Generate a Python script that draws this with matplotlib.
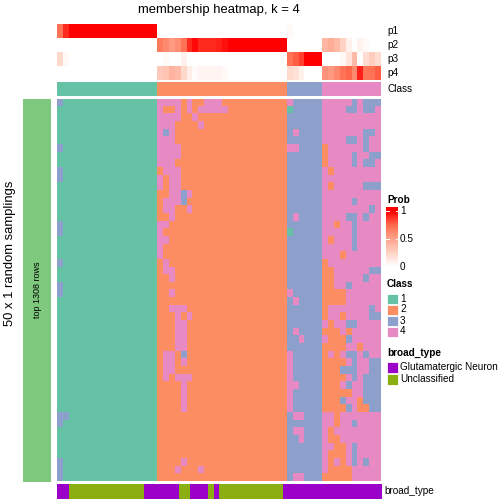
import matplotlib
matplotlib.use("Agg")
import matplotlib.pyplot as plt
import numpy as np
from matplotlib.colors import ListedColormap, LinearSegmentedColormap
from matplotlib.patches import Rectangle

plt.rcParams["font.family"] = ["Liberation Sans", "DejaVu Sans"]

# ---- data -------------------------------------------------------------
# class calls per sampling (rows) and sample (columns); groups split by spaces
class_rows = [
    "31111111111111111 4444242244422222222222 433333 4444434333",
    "11111111111111111 4224242444442222222222 133333 4444334334",
    "11111111111111111 4444224222222222222222 333333 4444444444",
    "11111111111111111 4442222422222222222222 333333 4444444444",
    "11111111111111111 4342222222222222222222 343333 4444444334",
    "11111111111111111 4442222222222222222222 333333 4444334344",
    "31111111111111111 4444222222222222222222 443333 2444444344",
    "11111111111111111 4444222222222222222222 333333 2444434433",
    "11111111111111111 4442222222222222222222 333333 2444434334",
    "31111111111111111 2444222222222222222222 333333 4244444444",
    "31111111111111111 4244222222222222222222 333333 4444444444",
    "11111111111111111 4244222222222222222222 333333 4244444333",
    "11111111111111111 2244342222222222222222 333333 4444444444",
    "11111111111111111 2444322222222222222222 333333 4444434444",
    "11111111111111111 2442242222222222222222 333333 4444444434",
    "11111111111111111 2242222222222222222222 343333 4444334344",
    "31111111111111111 4422222222222222222222 333333 4424434444",
    "31111111111111111 4222222222222222222222 133333 4444434444",
    "11111111111111111 4422222222222222222222 333333 4244434444",
    "11111111111111111 4222222222222222222222 333333 4444434444",
    "11111111111111111 4222222222222222222222 333333 4442444444",
    "31111111111111111 2422222222222222222222 333333 2444444444",
    "11111111111111111 2442222222222222222222 333333 2244444433",
    "11111111111111111 2242222222222222222222 333333 2244444344",
    "31111111111111111 2222222222222222222222 333333 2244344444",
    "31111111111111111 2242222222222222222222 433333 2222444444",
    "11111111111111111 2222222222222222222222 343333 2222444444",
    "11111111111111111 2244422222222222222222 333333 2444444434",
    "11111111111111111 2224242222222222222222 333333 2442444433",
    "11111111111111111 2224422222222222222222 333333 4244334444",
    "11111111111111111 2224422222222222222222 343333 2224244444",
    "11111111111111111 2224422222222222222222 334333 4222344444",
    "11111111111111111 2224422222222222222222 333333 2222442444",
    "11111111111111111 2442322222222222222222 433333 2424334344",
    "11111111111111111 2442422222222222222222 433333 2222434433",
    "11111111111111111 2442222222222222222222 433333 2223334433",
    "11111111111111111 2424442222222222222222 433333 2222434333",
    "11111111111111111 2222422222222222222222 443333 2224344333",
    "11111111111111111 2222422222222222222222 433333 2222244333",
    "11111111111111111 2222422222222222222222 433333 2223442333",
    "11111111111111111 2222422222222222222222 433333 2222342233",
    "33111111111111111 2222222222222222222222 344333 4424444444",
    "31111111111111111 2222222222222222222222 333333 4424434444",
    "11111111111111111 2222222222222222222222 344333 4244444444",
    "11111111111111111 2222222222222222222222 334333 4224444444",
    "11111111111111111 2222222222222222222222 333333 4422434444",
    "11111111111111111 2222222222222222222222 333333 4222434444",
    "31111111111111111 2222422222222222222222 333333 4242434344",
    "31111111111111111 2224222422222222222222 333333 4222244444",
    "31111111111111111 2222222222222222222222 344333 2222244444",
]

p1 = [0.72, 0.9, 1, 1, 1, 1, 1, 1, 1, 1, 1, 1, 1, 1, 1, 1, 1,
      0, 0, 0, 0, 0, 0, 0, 0, 0, 0, 0, 0, 0, 0, 0, 0, 0, 0, 0, 0, 0, 0,
      0.03, 0, 0, 0, 0, 0,
      0, 0, 0, 0, 0, 0, 0, 0, 0, 0]
p2 = [0, 0, 0, 0, 0, 0, 0, 0, 0, 0, 0, 0, 0, 0, 0, 0, 0,
      0.68, 0.62, 0.55, 0.6, 0.72, 0.9, 0.98, 0.9, 0.9, 0.9, 0.92, 0.96,
      1, 1, 1, 1, 1, 1, 1, 1, 1, 1,
      0, 0, 0, 0, 0, 0,
      0.4, 0.45, 0.38, 0.25, 0.08, 0, 0.07, 0.03, 0, 0]
p3 = [0.22, 0.04, 0, 0, 0, 0, 0, 0, 0, 0, 0, 0, 0, 0, 0, 0, 0,
      0, 0.03, 0, 0, 0.08, 0, 0, 0, 0, 0, 0, 0, 0, 0, 0, 0, 0, 0, 0, 0, 0, 0,
      0.72, 0.78, 0.85, 1, 1, 1,
      0, 0, 0, 0.04, 0.15, 0.38, 0, 0.2, 0.28, 0.2]
p4 = [0, 0, 0, 0, 0, 0, 0, 0, 0, 0, 0, 0, 0, 0, 0, 0, 0,
      0.3, 0.33, 0.42, 0.38, 0.22, 0.1, 0.02, 0.06, 0.06, 0.06, 0.06, 0.03,
      0, 0, 0, 0, 0, 0, 0, 0, 0, 0,
      0.2, 0.17, 0.08, 0, 0, 0,
      0.58, 0.55, 0.62, 0.72, 0.76, 0.62, 0.92, 0.7, 0.72, 0.78]

column_class = [1] * 17 + [2] * 22 + [3] * 6 + [4] * 10
# 1 = Glutamatergic Neuron, 2 = Unclassified
broad_type = [1, 1, 2, 2, 2, 2, 2, 2, 2, 2, 2, 2, 2, 2, 2,
              1, 1, 1, 1, 1, 1, 2, 2, 1, 1, 1, 2, 1,
              2, 2, 2, 2, 2, 2, 2, 2, 2, 2, 2,
              1, 1, 1, 1, 1, 1, 1, 1, 1, 1, 1, 1, 1, 1, 1, 1, 1]
broad_labels = ["Glutamatergic Neuron", "Unclassified"]
class_labels = ["1", "2", "3", "4"]

# ---- styles -------------------------------------------------------------
CLASS_COLORS = ["#66C2A5", "#FC8D62", "#8DA0CB", "#E78AC3"]
BROAD_COLORS = ["#9A00C8", "#8BAE12"]
class_cmap = ListedColormap(CLASS_COLORS)
broad_cmap = ListedColormap(BROAD_COLORS)
prob_cmap = LinearSegmentedColormap.from_list(
    "prob", [(0, "#FFFFFF"), (0.25, "#FFD3C5"), (0.5, "#FFA48C"),
             (0.75, "#FF6C4E"), (1, "#FF0000")])

W = H = 504


def px_axes(fig, x0, y0, x1, y1):
    ax = fig.add_axes([x0 / W, 1 - y1 / H, (x1 - x0) / W, (y1 - y0) / H])
    ax.set_axis_off()
    return ax


fig = plt.figure(figsize=(7, 7), dpi=72)

mat = np.array([[int(ch) for ch in r.replace(" ", "")] for r in class_rows])
probs = np.array([p1, p2, p3, p4])

# probability rows
ax_p = px_axes(fig, 57, 24, 381, 80)
ax_p.imshow(probs, cmap=prob_cmap, vmin=0, vmax=1, aspect="auto",
            interpolation="nearest")

# class annotation
ax_c = px_axes(fig, 57, 82, 381, 96)
ax_c.imshow(np.array([column_class]), cmap=class_cmap, vmin=0.5, vmax=4.5,
            aspect="auto", interpolation="nearest")

# main heatmap
ax_h = px_axes(fig, 57, 99, 381, 481.5)
ax_h.imshow(mat, cmap=class_cmap, vmin=0.5, vmax=4.5, aspect="auto",
            interpolation="nearest")

# broad_type annotation
ax_b = px_axes(fig, 57, 484, 381, 498.5)
ax_b.imshow(np.array([broad_type]), cmap=broad_cmap, vmin=0.5, vmax=2.5,
            aspect="auto", interpolation="nearest")

# overlay in pixel coordinates for text and legends
ov = fig.add_axes([0, 0, 1, 1])
ov.set_xlim(0, W)
ov.set_ylim(H, 0)
ov.set_axis_off()
ov.patch.set_alpha(0)

ov.text(219, 10, "membership heatmap, k = 4", ha="center", va="center", fontsize=13)
for i, name in enumerate(["p1", "p2", "p3", "p4"]):
    ov.text(387, 31 + 14 * i, name, ha="left", va="center", fontsize=10)
ov.text(387, 89, "Class", ha="left", va="center", fontsize=10)
ov.text(384, 491, "broad_type", ha="left", va="center", fontsize=10)

ov.add_patch(Rectangle((23, 99), 28, 382.5, color="#7FC97F", lw=0))
ov.text(37, 290, "top 1308 rows", rotation=90, ha="center", va="center", fontsize=9)
ov.text(10, 253, "50 x 1 random samplings", rotation=90, ha="center", va="center",
        fontsize=13)

# Prob legend
ov.text(387, 200, "Prob", ha="left", va="center", fontsize=10, fontweight="bold")
grad = np.linspace(1.07, 0, 100).reshape(-1, 1)
ov.imshow(np.clip(grad, 0, 1), cmap=prob_cmap, vmin=0, vmax=1, aspect="auto",
          extent=(386, 398, 267, 207), interpolation="bilinear")
for val, lab in [(1, "1"), (0.5, "0.5"), (0, "0")]:
    y = 267 - 56 * val
    ov.text(400, y, lab, ha="left", va="center", fontsize=10)
    if val > 0:
        ov.plot([386, 388.5], [y, y], color="white", lw=1)
        ov.plot([395.5, 398], [y, y], color="white", lw=1)

# Class legend
ov.text(387, 284, "Class", ha="left", va="center", fontsize=10, fontweight="bold")
for i, lab in enumerate(class_labels):
    yc = 298.5 + 11 * i
    ov.add_patch(Rectangle((386.5, yc - 5), 11, 10, facecolor=CLASS_COLORS[i],
                           edgecolor="white", lw=0.8))
    ov.text(400, yc, lab, ha="left", va="center", fontsize=10)

# broad_type legend
ov.text(387, 353, "broad_type", ha="left", va="center", fontsize=10, fontweight="bold")
for i, lab in enumerate(broad_labels):
    yc = 367.5 + 12 * i
    ov.add_patch(Rectangle((386.5, yc - 5.5), 11, 11, facecolor=BROAD_COLORS[i],
                           edgecolor="white", lw=0.8))
    ov.text(400, yc, lab, ha="left", va="center", fontsize=10)

fig.savefig("out.png", dpi=72)
